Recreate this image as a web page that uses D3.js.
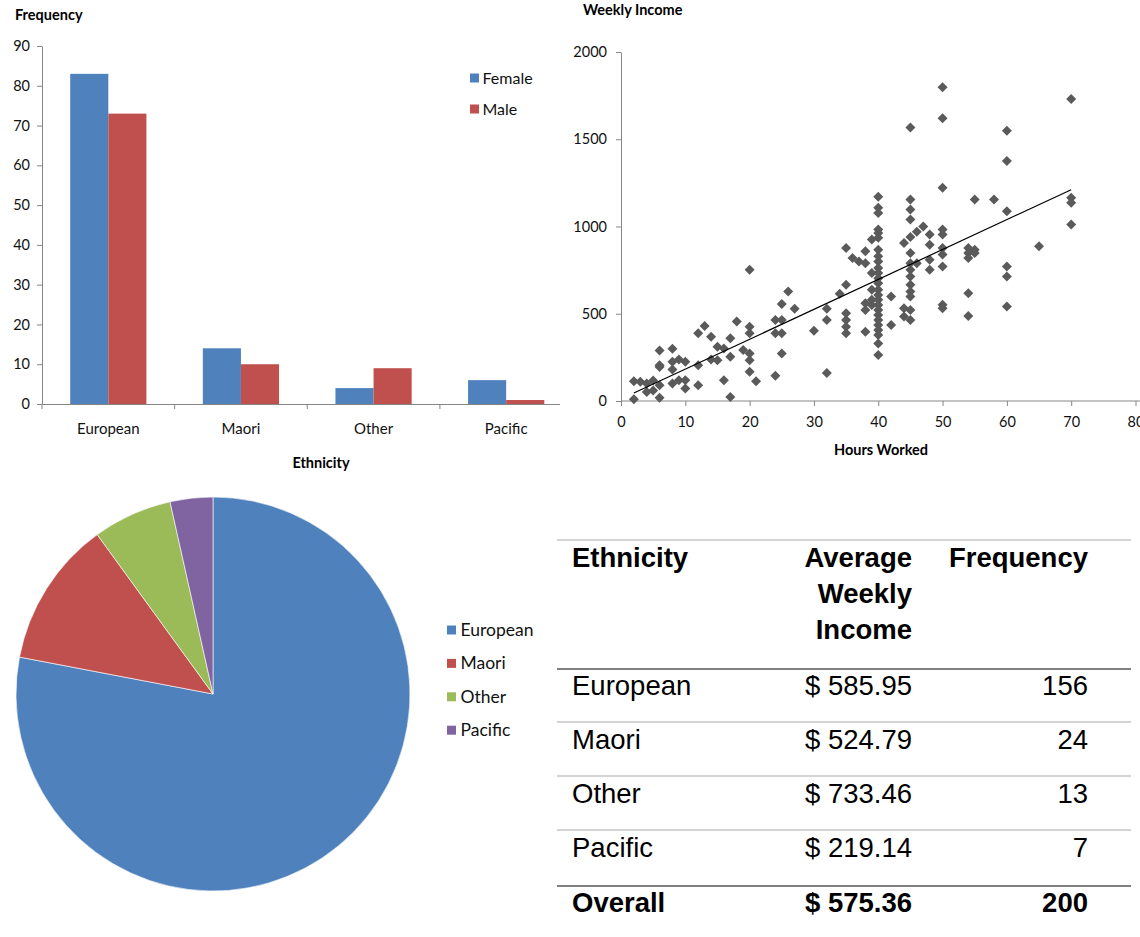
<!DOCTYPE html>
<html>
<head>
<meta charset="utf-8">
<script src="https://cdn.jsdelivr.net/npm/d3@7"></script>
<style>
  body { margin: 0; background: #fff; }
  svg { display: block; }
</style>
</head>
<body>
<svg id="chart" width="1140" height="937"></svg>
<script>
// ---- data ----
const categories = ["European", "Maori", "Other", "Pacific"];
const series = ["Female", "Male"];
const femaleCounts = [83, 14, 4, 6];
const maleCounts = [73, 10, 9, 1];
const barTicks = [0, 10, 20, 30, 40, 50, 60, 70, 80, 90];

const hoursWorked = [
  2, 2, 3, 4, 4, 5, 5, 6, 6, 6, 6, 6,
  8, 8, 8, 8, 9, 9, 10, 10, 10, 12, 12, 12, 13, 14, 14, 15, 15, 16, 16,
  17, 17, 17, 18, 19, 20, 20, 20, 20, 20, 20, 21,
  24, 24, 24, 25, 25, 25, 25, 26, 27, 30, 32, 32, 32, 34,
  35, 35, 35, 35, 35, 35, 36, 37, 38, 38, 38, 38, 38, 39, 39, 39, 39, 39,
  40, 40, 40, 40, 40, 40, 40, 40, 40, 40, 40, 40, 40, 40, 40, 40, 40, 40, 40, 40, 40, 40, 40, 40, 40,
  42, 42, 44, 44, 44,
  45, 45, 45, 45, 45, 45, 45, 45, 45, 45, 45, 45, 45, 45,
  46, 46, 47, 48, 48, 48, 48,
  50, 50, 50, 50, 50, 50, 50, 50, 50, 50,
  54, 54, 54, 54, 54, 55, 55, 55, 58,
  60, 60, 60, 60, 60, 60, 65, 70, 70, 70, 70
];
const weeklyIncome = [
  10, 113, 110, 100, 52, 118, 60, 19, 290, 205, 195, 90,
  300, 225, 180, 100, 238, 119, 225, 119, 71, 90, 205, 388, 430, 368, 238, 311, 234, 301, 119,
  359, 253, 23, 455, 292, 426, 388, 272, 234, 167, 752, 113,
  464, 388, 144, 556, 464, 388, 272, 627, 528, 403, 528, 464, 161, 614,
  877, 666, 503, 464, 426, 388, 819, 800, 858, 790, 560, 522, 397, 925, 733, 637, 580, 550,
  1170, 1107, 1078, 983, 963, 935, 867, 829, 800, 762, 733, 704, 675, 637, 608, 580, 550, 522, 493, 464, 435, 407, 378, 330, 263,
  599, 436, 906, 532, 484,
  1568, 1155, 1098, 1040, 940, 848, 790, 752, 714, 666, 627, 599, 522, 464,
  970, 790, 1000, 954, 896, 810, 752,
  1798, 1620, 1222, 983, 954, 877, 839, 771, 551, 532,
  877, 848, 819, 618, 487, 1155, 867, 848, 1155,
  1549, 1376, 1088, 771, 714, 541, 887, 1731, 1165, 1136, 1011
];
const hoursTicks = [0, 10, 20, 30, 40, 50, 60, 70, 80];
const incomeTicks = [0, 500, 1000, 1500, 2000];

const ethnicityCounts = [156, 24, 13, 7];
const averageIncome = [585.95, 524.79, 733.46, 219.14];
const overallIncome = 575.36;
const tableHeader = ["Ethnicity", ["Average", "Weekly", "Income"], "Frequency"];

// ---- styles ----
const chartFont = "Lato, 'Open Sans', 'Noto Sans', sans-serif";
const tableFont = "'Liberation Sans', Arial, sans-serif";
const colors = ["#4F81BD", "#C0504D", "#9BBB59", "#8064A2"];
const axisGray = "#868686";

const svg = d3.select("#chart");
svg.append("rect").attr("width", 1140).attr("height", 937).attr("fill", "#fff");

const defs = svg.append("defs");
defs.append("clipPath").attr("id", "barClip")
  .append("rect").attr("x", 0).attr("y", 0).attr("width", 560).attr("height", 475);

function styleAxis(g, size) {
  g.select(".domain").attr("stroke", axisGray).attr("stroke-width", 1);
  g.selectAll(".tick line").attr("stroke", axisGray);
  g.selectAll(".tick text").attr("fill", "#111").attr("font-family", chartFont).attr("font-size", size);
}

// ================= grouped bar chart =================
const barG = svg.append("g").attr("clip-path", "url(#barClip)");
const xBar = d3.scaleBand(categories, [42, 572.5]);
const xSeries = d3.scaleBand(series, [0, xBar.bandwidth()]).paddingInner(0).paddingOuter(0.74);
const yBar = d3.scaleLinear([0, 90], [404, 46]);

const barRows = categories.map((c, i) => ({ cat: c, values: [femaleCounts[i], maleCounts[i]] }));
barG.append("g").selectAll("g").data(barRows).join("g")
  .attr("transform", d => `translate(${xBar(d.cat)},0)`)
  .selectAll("rect").data(d => d.values.map((v, j) => ({ s: series[j], v })))
  .join("rect")
  .attr("x", d => xSeries(d.s))
  .attr("width", xSeries.bandwidth())
  .attr("y", d => yBar(d.v))
  .attr("height", d => yBar(0) - yBar(d.v))
  .attr("fill", (d, j) => colors[j]);

barG.append("g").attr("transform", "translate(42,0)")
  .call(d3.axisLeft(yBar).tickValues(barTicks).tickSize(5).tickSizeOuter(0).tickPadding(7))
  .call(g => styleAxis(g, 14.5));

barG.append("g").attr("transform", "translate(0,404)")
  .call(d3.axisBottom(xBar).tickSize(0).tickSizeOuter(0).tickPadding(19))
  .call(g => styleAxis(g, 15));
barG.append("g").selectAll("line").data(categories).join("line")
  .attr("x1", d => xBar(d)).attr("x2", d => xBar(d))
  .attr("y1", 404).attr("y2", 409).attr("stroke", axisGray);

barG.append("text").attr("x", 15).attr("y", 20).text("Frequency")
  .attr("font-family", chartFont).attr("font-weight", "bold").attr("font-size", 14.5);
svg.append("text").attr("x", 321).attr("y", 468).attr("text-anchor", "middle").text("Ethnicity")
  .attr("font-family", chartFont).attr("font-weight", "bold").attr("font-size", 14.5);

const barLegend = barG.append("g").selectAll("g").data(series).join("g")
  .attr("transform", (d, i) => `translate(470,${78 + i * 31})`);
barLegend.append("rect").attr("x", 0).attr("y", -4.5).attr("width", 9).attr("height", 9)
  .attr("fill", (d, i) => colors[i]);
barLegend.append("text").attr("x", 12.5).attr("y", 5.5).text(d => d)
  .attr("font-family", chartFont).attr("font-size", 16).attr("fill", "#111");

// ================= scatter plot =================
const scatterG = svg.append("g");
const xSc = d3.scaleLinear([0, 80], [621, 1135.5]);
const ySc = d3.scaleLinear([0, 2000], [401, 52]);

scatterG.append("g").attr("transform", "translate(621,0)")
  .call(d3.axisLeft(ySc).tickValues(incomeTicks).tickFormat(d3.format("d"))
    .tickSize(5).tickSizeOuter(0).tickPadding(9))
  .call(g => styleAxis(g, 14.5));
scatterG.append("g").attr("class", "x-axis").attr("transform", "translate(0,401)")
  .call(d3.axisBottom(xSc).tickValues(hoursTicks).tickSize(5).tickSizeOuter(0).tickPadding(11))
  .call(g => styleAxis(g, 14.5))
  .call(g => g.select(".domain").attr("d", "M621,0H1140"));

const points = hoursWorked.map((h, i) => ({ h, w: weeklyIncome[i] }));
const diamond = d3.symbol(d3.symbolSquare, 50)();
scatterG.append("g").selectAll("path").data(points).join("path")
  .attr("d", diamond)
  .attr("transform", d => `translate(${xSc(d.h)},${ySc(d.w)}) rotate(45)`)
  .attr("fill", "#5A5A5A");

// least-squares trend line
const mx = d3.mean(points, d => d.h), my = d3.mean(points, d => d.w);
const slope = d3.sum(points, d => (d.h - mx) * (d.w - my)) / d3.sum(points, d => (d.h - mx) ** 2);
const intercept = my - slope * mx;
const hExt = d3.extent(hoursWorked);
scatterG.append("line")
  .attr("x1", xSc(hExt[0])).attr("y1", ySc(intercept + slope * hExt[0]))
  .attr("x2", xSc(hExt[1])).attr("y2", ySc(intercept + slope * hExt[1]))
  .attr("stroke", "#000").attr("stroke-width", 1.2);

scatterG.append("text").attr("x", 583).attr("y", 15).text("Weekly Income")
  .attr("font-family", chartFont).attr("font-weight", "bold").attr("font-size", 14.5);
scatterG.append("text").attr("x", 881).attr("y", 455).attr("text-anchor", "middle").text("Hours Worked")
  .attr("font-family", chartFont).attr("font-weight", "bold").attr("font-size", 14.5);

// ================= pie chart =================
const pieG = svg.append("g").attr("transform", "translate(213,694)");
const pie = d3.pie().sort(null).value(d => d.v);
const arc = d3.arc().innerRadius(0).outerRadius(197);
const pieData = pie(categories.map((c, i) => ({ c, v: ethnicityCounts[i] })));
pieG.selectAll("path").data(pieData).join("path")
  .attr("d", arc)
  .attr("fill", (d, i) => colors[i])
  .attr("stroke", "#fff").attr("stroke-width", 0.6);

const pieLegend = svg.append("g").selectAll("g").data(categories).join("g")
  .attr("transform", (d, i) => `translate(447,${630 + i * 33.4})`);
pieLegend.append("rect").attr("x", 0).attr("y", -4.5).attr("width", 9).attr("height", 9)
  .attr("fill", (d, i) => colors[i]);
pieLegend.append("text").attr("x", 13.5).attr("y", 6).text(d => d)
  .attr("font-family", chartFont).attr("font-size", 17.5).attr("fill", "#111");

// ================= summary table =================
const tableG = svg.append("g").attr("font-family", tableFont).attr("fill", "#000");
const colLeft = 572, colIncome = 912, colFreq = 1088;
const ruleX1 = 557, ruleX2 = 1131;
const fs = 27.5;
const hline = (y, color) => tableG.append("line")
  .attr("x1", ruleX1).attr("x2", ruleX2).attr("y1", y).attr("y2", y)
  .attr("stroke", color).attr("stroke-width", 2);

hline(540, "#d4d4d4");
tableG.append("text").attr("x", colLeft).attr("y", 567).attr("font-weight", "bold")
  .attr("font-size", fs).text(tableHeader[0]);
tableHeader[1].forEach((t, i) => tableG.append("text")
  .attr("x", colIncome).attr("y", 567 + i * 36).attr("text-anchor", "end")
  .attr("font-weight", "bold").attr("font-size", fs).text(t));
tableG.append("text").attr("x", colFreq).attr("y", 567).attr("text-anchor", "end")
  .attr("font-weight", "bold").attr("font-size", fs).text(tableHeader[2]);
hline(669, "#808080");

const money = d3.format(".2f");
const rowY = [695, 749, 803, 857];
categories.forEach((c, i) => {
  tableG.append("text").attr("x", colLeft).attr("y", rowY[i]).attr("font-size", fs).text(c);
  tableG.append("text").attr("x", colIncome).attr("y", rowY[i]).attr("text-anchor", "end")
    .attr("font-size", fs).text("$ " + money(averageIncome[i]));
  tableG.append("text").attr("x", colFreq).attr("y", rowY[i]).attr("text-anchor", "end")
    .attr("font-size", fs).text(ethnicityCounts[i]);
  if (i < categories.length - 1) hline(rowY[i] + 27, "#d4d4d4");
});
hline(886, "#808080");
tableG.append("text").attr("x", colLeft).attr("y", 912).attr("font-weight", "bold")
  .attr("font-size", fs).text("Overall");
tableG.append("text").attr("x", colIncome).attr("y", 912).attr("text-anchor", "end")
  .attr("font-weight", "bold").attr("font-size", fs).text("$ " + money(overallIncome));
tableG.append("text").attr("x", colFreq).attr("y", 912).attr("text-anchor", "end")
  .attr("font-weight", "bold").attr("font-size", fs).text(d3.sum(ethnicityCounts));
</script>
</body>
</html>
